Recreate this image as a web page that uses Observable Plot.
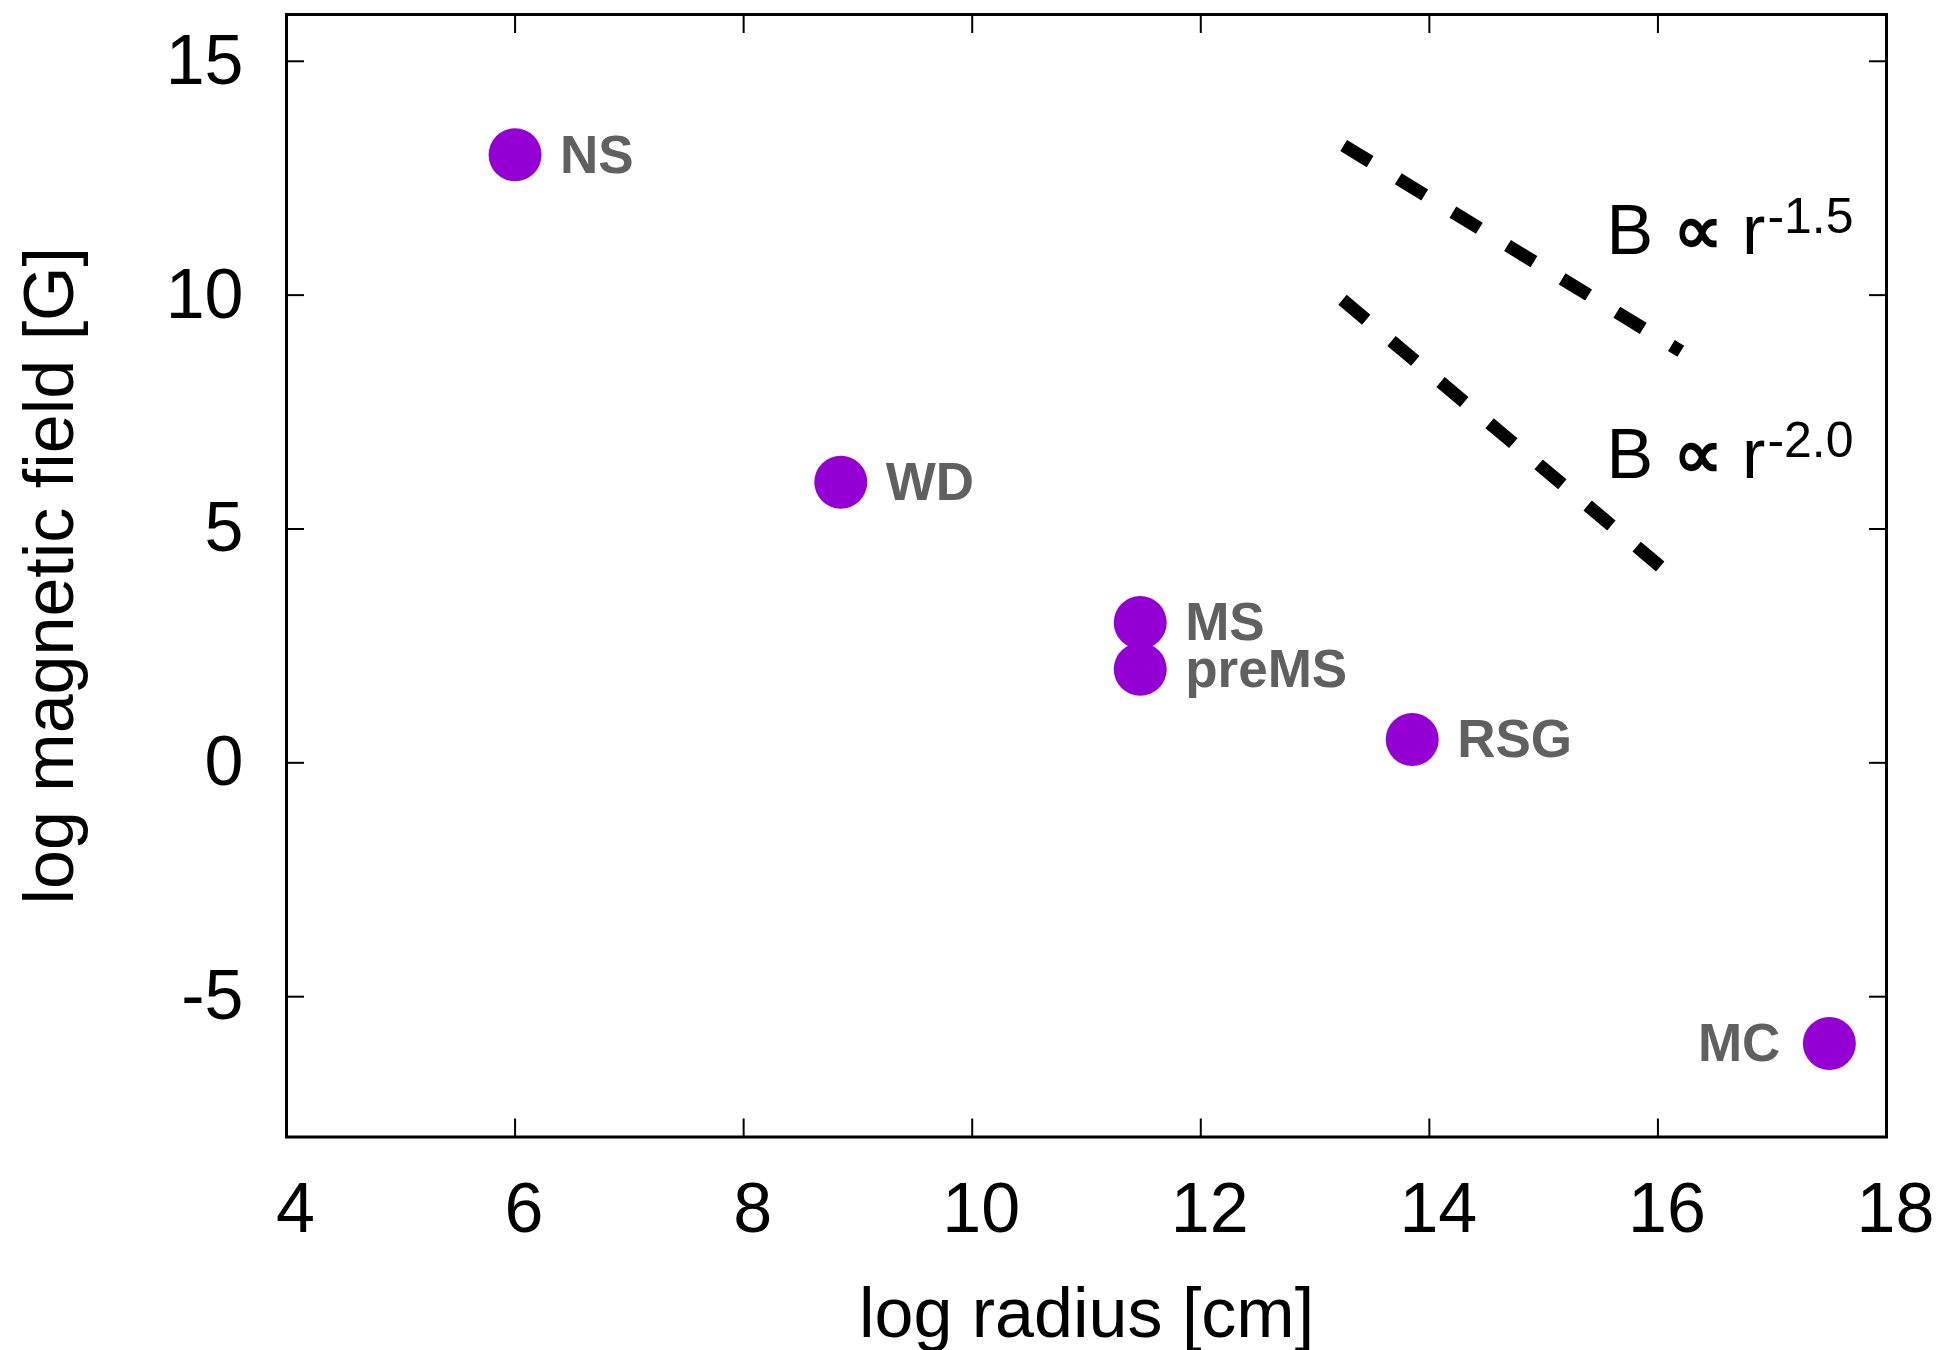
<!DOCTYPE html>
<html>
<head>
<meta charset="utf-8">
<script src="https://cdn.jsdelivr.net/npm/d3@7"></script>
<script src="https://cdn.jsdelivr.net/npm/@observablehq/plot@0.6"></script>
<style>
  body { margin: 0; background: #ffffff; }
  #chart svg { display: block; }
</style>
</head>
<body>
<div id="chart"></div>
<script>
// ---- data ----
const objectNames = ["NS", "WD", "MS", "preMS", "RSG", "MC"];
const logRadius   = [6.0, 8.85, 11.47, 11.47, 13.85, 17.5];
const logField    = [13.0, 6.0, 3.0, 2.0, 0.5, -6.0];

// power-law guide lines (end points)
const guide15X = [13.25, 16.2];
const guide15Y = [13.2, 8.8];
const guide20X = [13.24, 16.02];
const guide20Y = [9.9, 4.2];

// power-law annotations
const guideBase      = ["B ∝ r", "B ∝ r"];
const guideExponents = ["-1.5", "-2.0"];
const guideLabelX    = [15.55, 15.55];
const guideLabelY    = [11.36, 6.57];

// axes
const xTicks  = [4, 6, 8, 10, 12, 14, 16, 18];
const yTicks  = [-5, 0, 5, 10, 15];
const xDomain = [4, 18];
const yDomain = [-8, 16];
const xTitle  = "log radius [cm]";
const yTitle  = "log magnetic field [G]";

// ---- tables built from the arrays ----
const objects = objectNames.map((name, i) => ({name, r: logRadius[i], b: logField[i]}));
const guides = [
  ...guide15X.map((x, i) => ({id: "r15", x, y: guide15Y[i]})),
  ...guide20X.map((x, i) => ({id: "r20", x, y: guide20Y[i]}))
];
const guideLabels = guideBase.map((t, i) => ({t, exp: guideExponents[i], x: guideLabelX[i], y: guideLabelY[i]}));

const labelStyle = {fontWeight: "bold", fontSize: 53, fill: "#606060"};

const chart = Plot.plot({
  width: 1940,
  height: 1350,
  marginLeft: 286,
  marginRight: 54,
  marginTop: 14,
  marginBottom: 213.5,
  style: {fontFamily: "'Liberation Sans', Arial, Helvetica, sans-serif", fontSize: "70px", background: "#ffffff", color: "#000000"},
  x: {domain: xDomain, label: null},
  y: {domain: yDomain, label: null},
  marks: [
    // ticks (inward, mirrored on all four sides)
    Plot.axisX({ticks: xTicks, anchor: "bottom", tickSize: -18, tickFormat: () => "", label: null, strokeWidth: 2}),
    Plot.axisX({ticks: xTicks, anchor: "bottom", tickSize: 0, tickPadding: 45, dx: 9, tickFormat: d => String(d), fontSize: 70, label: null}),
    Plot.axisX({ticks: xTicks, anchor: "top", tickSize: -18, tickFormat: () => "", label: null, strokeWidth: 2}),
    Plot.axisY({ticks: yTicks, anchor: "left", tickSize: -18, tickPadding: 61, tickFormat: d => String(d), fontSize: 70, label: null, strokeWidth: 2}),
    Plot.axisY({ticks: yTicks, anchor: "right", tickSize: -18, tickFormat: () => "", label: null, strokeWidth: 2}),
    Plot.frame({stroke: "#000000", strokeWidth: 3}),
    // axis titles
    Plot.text([xTitle], {frameAnchor: "bottom", textAnchor: "middle", lineAnchor: "bottom", dy: 199.5, fontSize: 70, fill: "#000000"}),
    Plot.text([yTitle], {frameAnchor: "left", textAnchor: "middle", rotate: -90, lineAnchor: "bottom", dx: -214, fontSize: 70, fill: "#000000"}),
    // guide lines
    Plot.line(guides, {x: "x", y: "y", z: "id", stroke: "#000000", strokeWidth: 13, strokeDasharray: "31,33", strokeLinecap: "butt"}),
    Plot.text(guideLabels, {x: "x", y: "y", text: "t", textAnchor: "start", fontSize: 70, fill: "#000000", className: "guide-label"}),
    // objects
    Plot.dot(objects, {x: "r", y: "b", r: 26.5, fill: "#9400D3", stroke: "none"}),
    Plot.text(objects.filter(d => d.name !== "MC"), {x: "r", y: "b", text: "name", textAnchor: "start", dx: 45, dy: 1, ...labelStyle}),
    Plot.text(objects.filter(d => d.name === "MC"), {x: "r", y: "b", text: "name", textAnchor: "end", dx: -49, dy: 1, ...labelStyle})
  ]
});

document.getElementById("chart").appendChild(chart);

// rebuild power-law labels as tspans: bold proportional sign and a superscript exponent
const SVGNS = "http://www.w3.org/2000/svg";
const svg = chart.tagName.toLowerCase() === "svg" ? chart : chart.querySelector("svg");
svg.querySelectorAll("g.guide-label text").forEach((node, i) => {
  const base = guideLabels[i].t;            // "B ∝ r"
  const parts = base.split("∝");
  node.textContent = "";
  const a = document.createElementNS(SVGNS, "tspan");
  a.textContent = parts[0];
  const b = document.createElementNS(SVGNS, "tspan");
  b.setAttribute("font-weight", "bold");
  b.textContent = "∝";
  const c = document.createElementNS(SVGNS, "tspan");
  c.textContent = parts[1];
  const e = document.createElementNS(SVGNS, "tspan");
  e.setAttribute("dy", "-21");
  e.setAttribute("dx", "2");
  e.setAttribute("font-size", "50");
  e.textContent = guideLabels[i].exp;
  node.append(a, b, c, e);
});
</script>
</body>
</html>
